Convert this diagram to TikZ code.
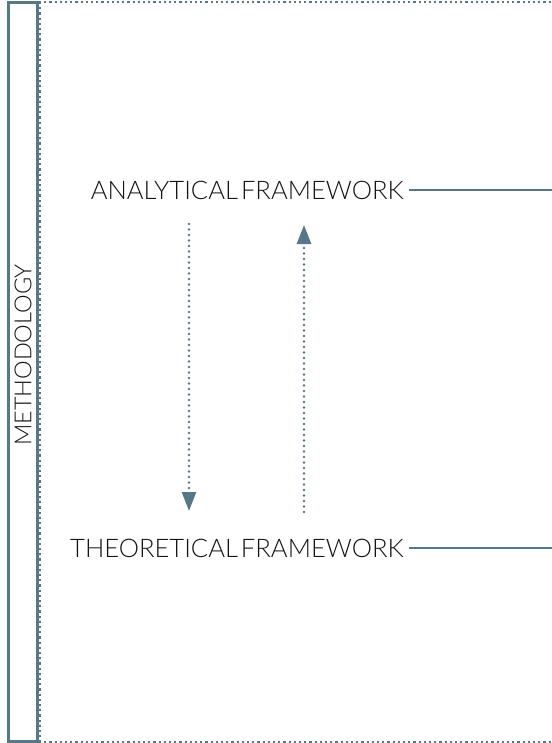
\documentclass[tikz,border=0pt]{standalone}
\usepackage{fontspec}
\setmainfont{Lato Light}
\usetikzlibrary{arrows.meta}
\definecolor{slate}{HTML}{587888}
\definecolor{txt}{HTML}{141414}
\begin{document}
\begin{tikzpicture}[x=1pt,y=-1pt,
  lbl/.style={font=\fontsize{25.6}{28}\selectfont, text=txt, inner sep=0pt},
  conn/.style={draw=slate, line width=1.8pt},
  dotl/.style={draw=slate, line width=2.4pt, dash pattern=on 2.2pt off 3pt},
  darrow/.style={draw=slate, line width=2.6pt, line cap=round, dash pattern=on 0pt off 5.5pt, -{Triangle[length=19pt,width=14pt,fill=slate]}}]
\useasboundingbox (0,0) rectangle (551,743);
% dotted outer frame
\draw[dotl] (39,2) -- (553,2);
\draw[dotl] (39,742) -- (553,742);
\draw[dotl] (40,2) -- (40,742);
% methodology band
\draw[draw=slate, line width=3pt] (8.5,2.5) rectangle (37.5,741.5);
\node[lbl, rotate=90, font=\fontsize{23.5}{26}\selectfont] (meth) at (23,355) {METHODOLOGY};
% labels
\node[lbl, anchor=east] (ana) at (404,190) {ANALYTICAL\hspace{3pt}FRAMEWORK};
\node[lbl, anchor=east] (theo) at (404,548) {THEORETICAL\hspace{3pt}FRAMEWORK};
\coordinate (anaR) at (552,190);
\coordinate (theoR) at (552,548);
\draw[conn] ([xshift=5pt]ana.east) -- (anaR);
\draw[conn] ([xshift=5pt]theo.east) -- (theoR);
% arrows
\coordinate (a1) at (189,224);
\coordinate (a2) at (189,511);
\coordinate (b1) at (304,512);
\coordinate (b2) at (304,225);
\draw[darrow] (a1) -- (a2);
\draw[darrow] (b1) -- (b2);
\end{tikzpicture}
\end{document}
